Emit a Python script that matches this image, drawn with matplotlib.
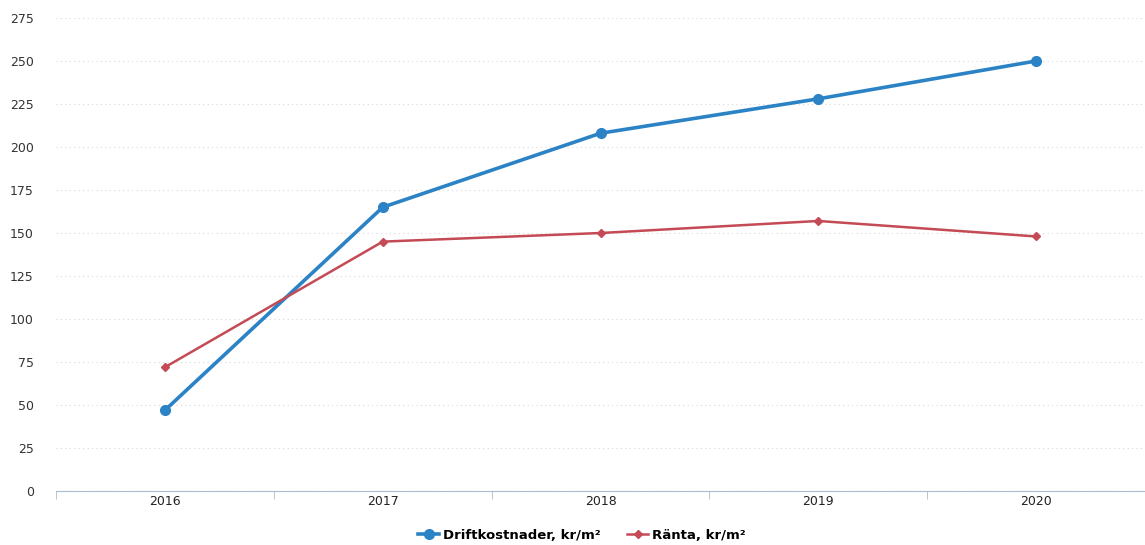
import matplotlib.pyplot as plt
import numpy as np

years = ["2016", "2017", "2018", "2019", "2020"]
drift = [47, 165, 208, 228, 250]
ranta = [72, 145, 150, 157, 148]
yticks = [0, 25, 50, 75, 100, 125, 150, 175, 200, 225, 250, 275]

fig = plt.figure(figsize=(11.45, 5.45), dpi=100)
ax = fig.add_axes([0.049, 0.099, 0.951, 0.868])

x = np.arange(len(years))
ax.plot(x, drift, color="#2b83c6", lw=2.6, marker="o", ms=7,
        label="Driftkostnader, kr/m²", zorder=3)
ax.plot(x, ranta, color="#c44a55", lw=1.8, marker="D", ms=4,
        label="Ränta, kr/m²", zorder=3)

ax.set_xlim(-0.5, len(years) - 0.5)
ax.set_ylim(0, 275)
ax.set_yticks(yticks)
ax.set_xticks(x)
ax.set_xticklabels(years)
ax.set_xticks(np.arange(-0.5, len(years)), minor=True)

ax.grid(axis="y", color="#d8d8d8", ls=(0, (1, 3)), lw=0.8)
for s in ["top", "right", "left"]:
    ax.spines[s].set_visible(False)
ax.spines["bottom"].set_color("#a9bccf")
ax.spines["bottom"].set_linestyle((0, (4, 1)))

ax.tick_params(axis="y", length=0, pad=16, labelsize=9, labelcolor="#333333")
ax.tick_params(axis="x", which="major", length=0, pad=3, labelsize=9,
               labelcolor="#222222")
ax.tick_params(axis="x", which="minor", length=6, color="#a9bccf",
               direction="out")

ax.legend(loc="center", bbox_to_anchor=(0.483, -0.093), ncol=2,
          frameon=False, prop={"size": 9.5, "weight": "bold"},
          handlelength=1.6, columnspacing=2.0, handletextpad=0.3,
          borderpad=0.1)

fig.savefig("out.png")
